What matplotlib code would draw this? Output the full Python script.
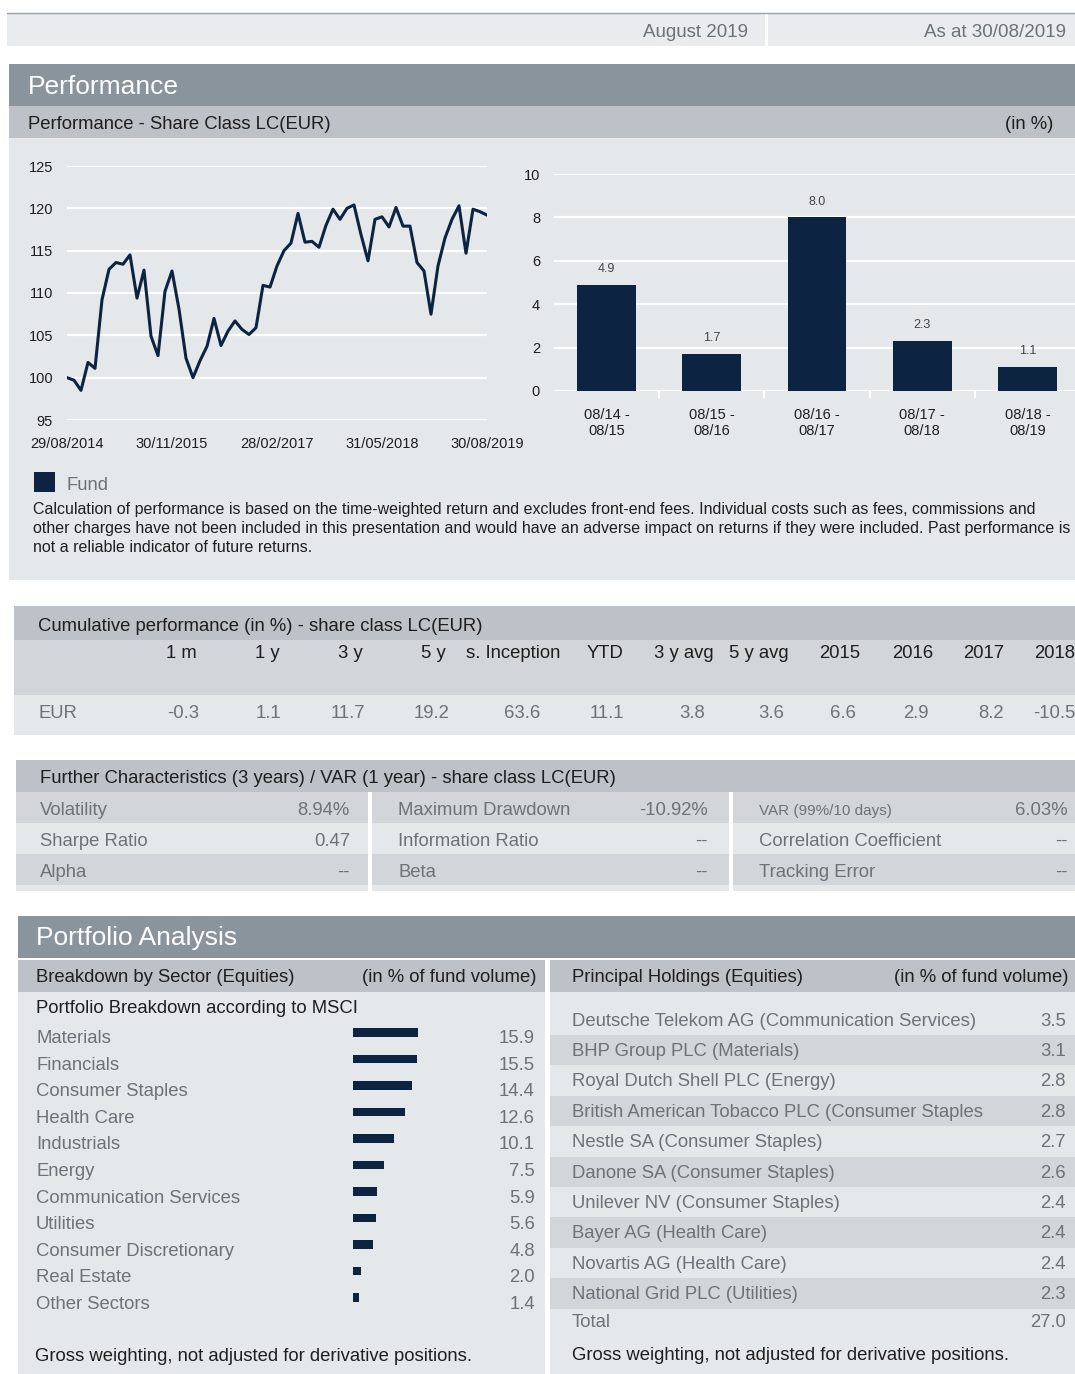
import numpy as np
import matplotlib
matplotlib.use("Agg")
import matplotlib.pyplot as plt
from matplotlib.patches import Rectangle

plt.rcParams['font.family'] = ['Liberation Sans', 'DejaVu Sans']

# ---- data ----
fund_index = [100.0, 99.7, 98.5, 101.8, 101.1, 109.2, 112.8, 113.6, 113.4, 114.5,
              109.4, 112.7, 104.9, 102.6, 110.2, 112.6, 108.1, 102.3, 100.0, 102.0,
              103.7, 107.0, 103.8, 105.5, 106.7, 105.7, 105.1, 105.9, 110.9, 110.7,
              113.2, 115.0, 115.9, 119.4, 116.0, 116.1, 115.4, 118.0, 119.9, 118.7,
              120.0, 120.4, 116.9, 113.8, 118.7, 119.0, 117.8, 120.1, 117.9, 117.9,
              113.6, 112.6, 107.5, 113.2, 116.5, 118.7, 120.3, 114.7, 119.9, 119.6,
              119.2]
date_ticks = [0, 15, 30, 45, 60]
date_labels = ['29/08/2014', '30/11/2015', '28/02/2017', '31/05/2018', '30/08/2019']

periods = ['08/14 -\n08/15', '08/15 -\n08/16', '08/16 -\n08/17', '08/17 -\n08/18', '08/18 -\n08/19']
yearly_perf = [4.9, 1.7, 8.0, 2.3, 1.1]

cum_headers = ['1 m', '1 y', '3 y', '5 y', 's. Inception', 'YTD', '3 y avg', '5 y avg',
               '2015', '2016', '2017', '2018']
cum_values = ['-0.3', '1.1', '11.7', '19.2', '63.6', '11.1', '3.8', '3.6', '6.6', '2.9', '8.2', '-10.5']

char_labels = [['Volatility', 'Maximum Drawdown', 'VAR (99%/10 days)'],
               ['Sharpe Ratio', 'Information Ratio', 'Correlation Coefficient'],
               ['Alpha', 'Beta', 'Tracking Error']]
char_values = [['8.94%', '-10.92%', '6.03%'],
               ['0.47', '--', '--'],
               ['--', '--', '--']]

sectors = ['Materials', 'Financials', 'Consumer Staples', 'Health Care', 'Industrials', 'Energy',
           'Communication Services', 'Utilities', 'Consumer Discretionary', 'Real Estate',
           'Other Sectors']
sector_weights = [15.9, 15.5, 14.4, 12.6, 10.1, 7.5, 5.9, 5.6, 4.8, 2.0, 1.4]

holdings = ['Deutsche Telekom AG (Communication Services)', 'BHP Group PLC (Materials)',
            'Royal Dutch Shell PLC (Energy)', 'British American Tobacco PLC (Consumer Staples',
            'Nestle SA (Consumer Staples)', 'Danone SA (Consumer Staples)',
            'Unilever NV (Consumer Staples)', 'Bayer AG (Health Care)',
            'Novartis AG (Health Care)', 'National Grid PLC (Utilities)']
holding_weights = [3.5, 3.1, 2.8, 2.8, 2.7, 2.6, 2.4, 2.4, 2.4, 2.3]
holdings_total = 27.0

# ---- styles ----
NAVY = '#0c2341'
HEAD = '#8a949d'
SUB = '#bcc2c8'
LIGHT = '#e5e8eb'
MID = '#d2d6da'
GREY_TXT = '#6c7278'
DARK_TXT = '#1e1e1e'

W, H = 1075, 1374
fig = plt.figure(figsize=(W / 100, H / 100), dpi=100)


def rect(x0, y0, x1, y1, color):
    fig.add_artist(Rectangle((x0 / W, 1 - y1 / H), (x1 - x0) / W, (y1 - y0) / H,
                             transform=fig.transFigure, facecolor=color, lw=0, zorder=0))


def txt(x, y, s, size=13.3, color=DARK_TXT, ha='left', **kw):
    # small shift so the visual centre of the text sits on y
    fig.text(x / W, 1 - (y + 2.5) / H, s, fontsize=size, color=color, ha=ha, va='center', **kw)


def axes_px(x0, y0, x1, y1):
    ax = fig.add_axes([x0 / W, 1 - y1 / H, (x1 - x0) / W, (y1 - y0) / H])
    ax.patch.set_alpha(0)
    for s in ax.spines.values():
        s.set_visible(False)
    return ax


# top strip
fig.add_artist(plt.Line2D([7 / W, 1], [1 - 13 / H] * 2, color='#9aa0a6', lw=1))
rect(7, 14, 765, 46, '#e9ebee')
rect(768, 14, 1075, 46, '#e9ebee')
txt(748, 30, 'August 2019', 13.5, GREY_TXT, ha='right')
txt(1066, 30, 'As at 30/08/2019', 13.5, GREY_TXT, ha='right')

# performance block
rect(9, 64, 1075, 106, HEAD)
rect(9, 106, 1075, 138, SUB)
rect(9, 138, 1075, 580, LIGHT)
txt(28, 85, 'Performance', 19, 'white')
txt(28, 122, 'Performance - Share Class LC(EUR)', 13.3)
txt(1053, 122, '(in %)', 13.3, ha='right')

ax1 = axes_px(67, 166, 487, 420)
ax1.plot(range(len(fund_index)), fund_index, color=NAVY, lw=2.2, zorder=3)
ax1.set_xlim(0, 60)
ax1.set_ylim(95, 125)
ax1.set_yticks(range(95, 126, 5))
ax1.set_xticks(date_ticks, date_labels)
ax1.grid(axis='y', color='white', lw=1.6)
ax1.tick_params(length=0, labelsize=10.5, colors=DARK_TXT)
ax1.tick_params(axis='y', pad=10)
ax1.tick_params(axis='x', pad=12)

ax2 = axes_px(554, 174, 1080, 391)
xpos = np.arange(len(yearly_perf))
ax2.bar(xpos, yearly_perf, width=0.56, color=NAVY, zorder=3)
for xi, v in zip(xpos, yearly_perf):
    ax2.annotate(f'{v:.1f}', (xi, v), xytext=(0, 7), textcoords='offset points',
                 ha='center', va='bottom', fontsize=9, color='#444444')
ax2.set_xlim(-0.5, 4.5)
ax2.set_ylim(0, 10)
ax2.set_yticks(range(0, 11, 2))
ax2.set_xticks(xpos, periods)
ax2.set_xticks(xpos[:-1] + 0.5, minor=True)
ax2.grid(axis='y', color='white', lw=1.6)
ax2.tick_params(axis='y', length=0, labelsize=10.5, colors=DARK_TXT, pad=10)
ax2.tick_params(axis='x', which='major', length=0, labelsize=10.5, colors=DARK_TXT, pad=12)
ax2.tick_params(axis='x', which='minor', length=5, color='white', width=1.5)

rect(34, 472, 55, 492, NAVY)
txt(66, 483, 'Fund', 13.3, GREY_TXT)
disclaimer = ['Calculation of performance is based on the time-weighted return and excludes front-end fees. '
              'Individual costs such as fees, commissions and',
              'other charges have not been included in this presentation and would have an adverse impact '
              'on returns if they were included. Past performance is',
              'not a reliable indicator of future returns.']
for i, line in enumerate(disclaimer):
    txt(33, 507 + 19 * i, line, 11.5, DARK_TXT)

# cumulative performance table
rect(14, 606, 1075, 640, SUB)
rect(14, 640, 1075, 695, MID)
rect(14, 695, 1075, 735, LIGHT)
txt(38, 624, 'Cumulative performance (in %) - share class LC(EUR)', 13.3)
head_x = [197, 280, 363, 446, 560, 624, 714, 789, 860, 933, 1004, 1075]
val_x = [199, 281, 365, 449, 540, 624, 705, 784, 856, 929, 1004, 1075]
for hx, vx, h, v in zip(head_x, val_x, cum_headers, cum_values):
    txt(hx, 651, h, 13.3, DARK_TXT, ha='right')
    txt(vx, 711, v, 13.3, GREY_TXT, ha='right')
txt(38, 711, 'EUR', 13.3, GREY_TXT)

# further characteristics
rect(16, 760, 1075, 792, SUB)
for r, c in enumerate([MID, LIGHT, MID]):
    rect(16, 792 + 31 * r, 1075, 823 + 31 * r, c)
rect(16, 885, 1075, 891, LIGHT)
rect(368, 792, 372, 891, 'white')
rect(729, 792, 733, 891, 'white')
txt(40, 776, 'Further Characteristics (3 years) / VAR (1 year) - share class LC(EUR)', 13.3)
lab_x = [40, 398, 759]
num_x = [350, 708, 1068]
for r in range(3):
    for c in range(3):
        size = 11 if char_labels[r][c].startswith('VAR') else 13.3
        txt(lab_x[c], 808 + 31 * r, char_labels[r][c], size, GREY_TXT)
        txt(num_x[c], 808 + 31 * r, char_values[r][c], 13.3, GREY_TXT, ha='right')

# portfolio analysis
rect(18, 916, 1075, 958, HEAD)
txt(36, 936, 'Portfolio Analysis', 19, 'white')
rect(18, 960, 545, 992, SUB)
rect(18, 992, 545, 1374, LIGHT)
rect(550, 960, 1075, 992, SUB)
rect(550, 992, 1075, 1374, LIGHT)
txt(36, 975, 'Breakdown by Sector (Equities)', 13.3)
txt(537, 975, '(in % of fund volume)', 13.3, ha='right')
txt(572, 975, 'Principal Holdings (Equities)', 13.3)
txt(1068, 975, '(in % of fund volume)', 13.3, ha='right')
txt(36, 1006, 'Portfolio Breakdown according to MSCI', 13.3)

ax3 = axes_px(353, 1023, 453, 1315)
ypos = np.arange(len(sectors))
ax3.barh(ypos - 0.15, sector_weights, height=0.32, color=NAVY)
ax3.set_xlim(0, 100 / 4.1)
ax3.set_ylim(len(sectors) - 0.5, -0.5)
ax3.set_xticks([])
ax3.set_yticks([])
row_h = (1315 - 1023) / len(sectors)
for i, (s, v) in enumerate(zip(sectors, sector_weights)):
    yy = 1023 + row_h * (i + 0.5)
    txt(36, yy, s, 13.3, GREY_TXT)
    txt(535, yy, f'{v:.1f}', 13.3, GREY_TXT, ha='right')
txt(35, 1354, 'Gross weighting, not adjusted for derivative positions.', 13.3)

for i, (h, v) in enumerate(zip(holdings, holding_weights)):
    top = 1004.6 + 30.4 * i
    if i % 2 == 1:
        rect(550, top, 1075, top + 30.4, MID)
    txt(572, top + 14, h, 13.3, GREY_TXT)
    txt(1066, top + 14, f'{v:.1f}', 13.3, GREY_TXT, ha='right')
txt(572, 1320, 'Total', 13.3, GREY_TXT)
txt(1066, 1320, f'{holdings_total:.1f}', 13.3, GREY_TXT, ha='right')
txt(572, 1353, 'Gross weighting, not adjusted for derivative positions.', 13.3)

fig.savefig('out.png', dpi=100)
